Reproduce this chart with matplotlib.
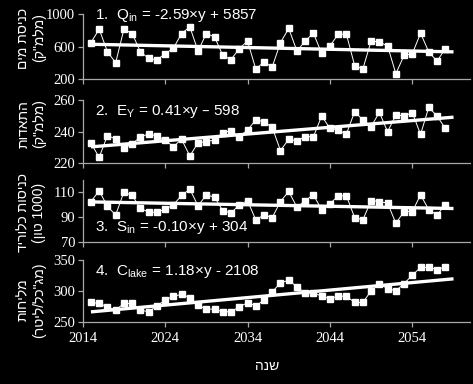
import re
import numpy as np
import matplotlib
matplotlib.use('Agg')
import matplotlib.pyplot as plt

# Годы наблюдений
years = np.arange(2015, 2059)

# Значения по панелям
q_in = [648, 813, 536, 399, 813, 760, 536, 453, 436, 511, 577, 760, 842, 544,
        760, 718, 490, 440, 573, 668, 324, 407, 349, 648, 822, 544, 668, 764,
        515, 606, 751, 751, 366, 324, 668, 656, 606, 266, 490, 511, 764, 532,
        420, 573]
e_y = [232.6, 223.8, 237.5, 235.4, 229.5, 232.2, 236.8, 238.5, 237.3, 234.7,
       230.5, 235.2, 224.6, 233.0, 233.7, 234.7, 239.4, 240.6, 236.8, 241.0,
       247.4, 246.3, 242.7, 228.0, 235.2, 234.3, 236.8, 236.8, 249.9, 242.1,
       241.0, 238.5, 252.6, 247.4, 243.2, 252.2, 240.0, 250.5, 249.9, 252.0,
       238.3, 255.4, 249.9, 242.1]
s_in = [102.4, 111.1, 98.4, 91.6, 110.0, 107.3, 97.0, 93.8, 93.8, 96.2,
        99.7, 107.3, 112.4, 98.9, 107.8, 105.9, 95.1, 93.2, 99.7, 103.2,
        87.6, 91.6, 89.5, 102.4, 110.5, 97.8, 103.2, 107.8, 95.7, 100.5,
        107.0, 107.0, 89.5, 87.6, 103.2, 102.4, 101.1, 84.9, 94.3, 94.3,
        107.8, 95.7, 91.6, 99.7]
c_lake = [281.2, 279.6, 274.2, 268.8, 279.6, 279.6, 268.8, 266.1, 275.8, 284.9,
          291.4, 294.1, 289.2, 276.9, 270.4, 270.4, 266.1, 266.1, 274.2, 280.6,
          275.8, 284.9, 298.4, 312.9, 317.2, 306.5, 296.8, 296.8, 291.4, 287.6,
          291.4, 291.4, 281.2, 281.2, 300.0, 310.8, 303.8, 300.0, 311.8, 325.3,
          337.9, 337.9, 334.6, 338.8]

series = [q_in, e_y, s_in, c_lake]
ylims = [(200, 1000), (220, 260), (70, 120), (250, 350)]
yticks = [[200, 600, 1000], [220, 240, 260], [70, 90, 110], [250, 300, 350]]
xticks = [2014, 2024, 2034, 2044, 2054]

equations = ['1.  Q$\\mathregular{_{in}}$ = -2.59\u00d7y + 5857',
             '2.  E$\\mathregular{_{Y}}$ = 0.41\u00d7y \u2013 598',
             '3.  S$\\mathregular{_{in}}$ = -0.10\u00d7y + 304',
             '4.  C$\\mathregular{_{lake}}$ = 1.18\u00d7y - 2108']
ylabels = [('כניסת מים', '(מלמ"ק)'),
           ('התאדות', '(מלמ"ק)'),
           ('כניסות כלוריד', '(1000 טון)'),
           ('מליחות', '(מג"כל/ליטר)')]
xlabel = 'שנה'


def rtl(s):
    # простая замена bidi: переворачиваем строку, цифры оставляем как есть
    r = s[::-1].translate(str.maketrans('()', ')('))
    return re.sub(r'[0-9A-Za-z.]+', lambda m: m.group(0)[::-1], r)


W, H = 473, 384
fig = plt.figure(figsize=(W / 100, H / 100), dpi=100, facecolor='black')

# (верх, низ) каждой панели в пикселях
boxes = [(14, 79), (100, 163.3), (179.7, 241.7), (260, 321.7)]
eq_y = [15, 111.5, 228, 272]
lab_y = [38, 124, 213, 300]
left, right = 82.7, 470

hebrew = ['Liberation Sans', 'DejaVu Sans']
grey = '#a8a8a8'

for i, (vals, box) in enumerate(zip(series, boxes)):
    top, bot = box
    ax = fig.add_axes([left / W, 1 - bot / H, (right - left) / W, (bot - top) / H])
    ax.set_facecolor('black')
    ax.plot(years, vals, color='white', lw=0.7, marker='s', ms=4.2,
            mfc='white', mec='white', clip_on=False, zorder=3)
    k, b = np.polyfit(years, vals, 1)
    xt = np.array([years[0], years[-1] + 1])
    ax.plot(xt, k * xt + b, color='white', lw=2.4, solid_capstyle='butt',
            clip_on=False, zorder=4)
    ax.set_xlim(2014, 2061)
    ax.set_ylim(*ylims[i])
    ax.set_yticks(yticks[i])
    ax.set_xticks(xticks)
    for s in ['top', 'right']:
        ax.spines[s].set_visible(False)
    for s in ['left', 'bottom']:
        ax.spines[s].set_color(grey)
        ax.spines[s].set_linewidth(0.9)
    ax.tick_params(colors=grey, labelcolor='white', direction='out',
                   length=3.5, width=0.9, pad=2)
    for t in ax.get_yticklabels() + ax.get_xticklabels():
        t.set_fontfamily('Liberation Serif')
        t.set_fontsize(10.5)
    if i < 3:
        ax.tick_params(axis='x', labelbottom=False)
    else:
        ax.tick_params(axis='x', pad=4)

    fig.text(95 / W, 1 - eq_y[i] / H, equations[i], color='white',
             fontsize=11, family='Liberation Sans', ha='left', va='center')
    l1, l2 = ylabels[i]
    fig.text(31 / W, 1 - lab_y[i] / H, rtl(l1) + '\n' + rtl(l2), color='white',
             fontsize=10, family=hebrew, rotation=90, ha='center', va='center',
             multialignment='center', linespacing=1.15)

fig.text(267 / W, 1 - 366 / H, rtl(xlabel), color='white', fontsize=10,
         family=hebrew, ha='center', va='center')

fig.savefig('out.png', dpi=100, facecolor='black')
